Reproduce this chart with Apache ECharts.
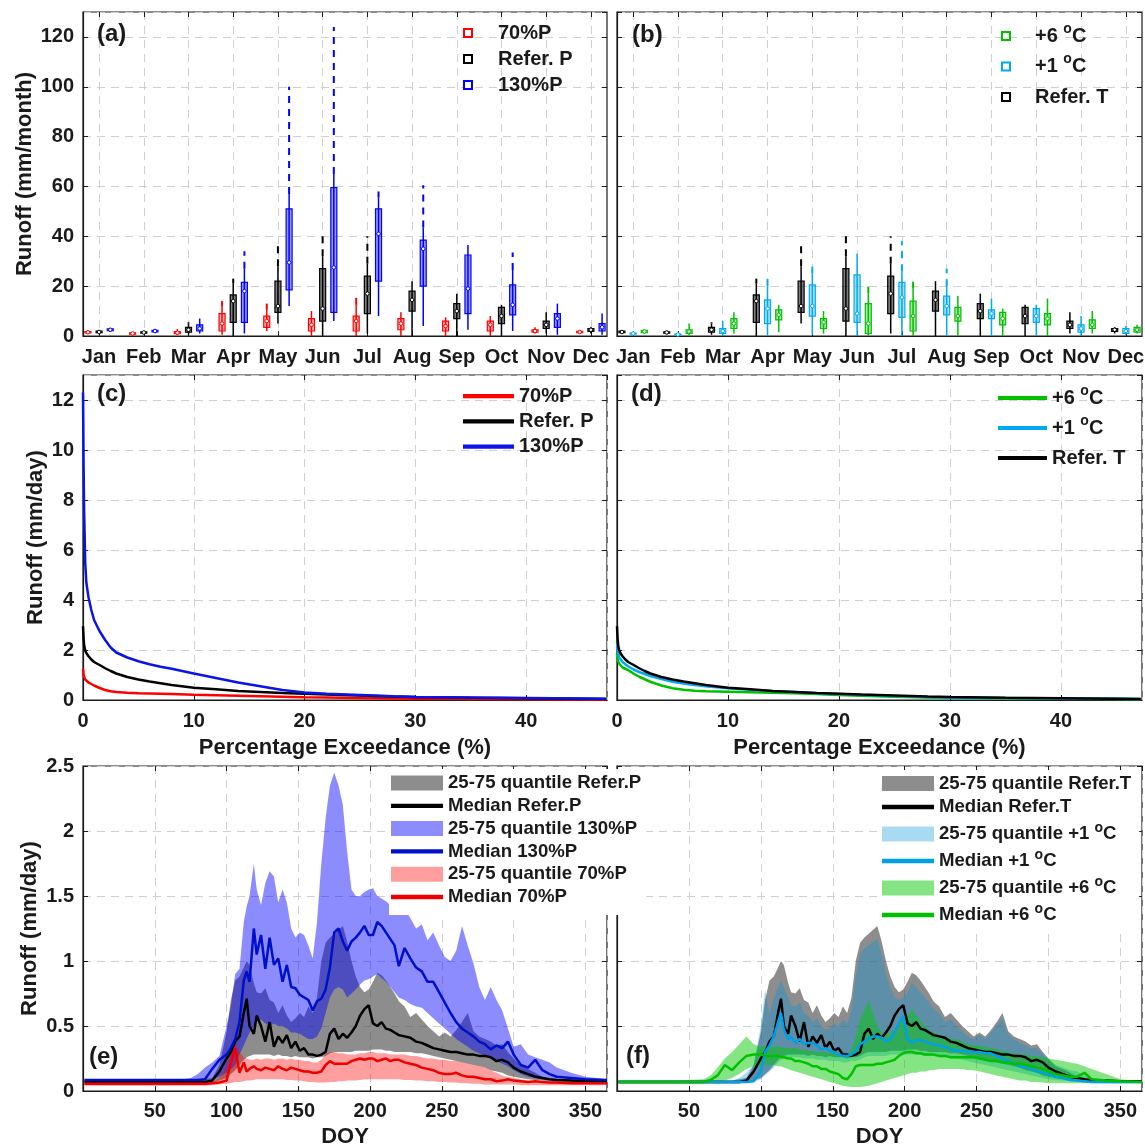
<!DOCTYPE html>
<html>
<head>
<meta charset="utf-8">
<script src="https://cdn.jsdelivr.net/npm/echarts@6/dist/echarts.min.js"></script>
<style>
  html, body { margin: 0; padding: 0; background: #fff; }
  #chart { width: 1145px; height: 1148px; }
</style>
</head>
<body>
<div id="chart"></div>
<script>
// ---------------- data ----------------
const months = ['Jan', 'Feb', 'Mar', 'Apr', 'May', 'Jun', 'Jul', 'Aug', 'Sep', 'Oct', 'Nov', 'Dec'];

// monthly runoff boxes, one row per month:
// [lower whisker, Q1, median, Q3, upper whisker, highest outlier]  (mm/month)
const box70P = [
  [1, 1.2, 1.5, 1.8, 2.2, 2.2], [0.5, 0.7, 1, 1.3, 1.6, 1.6], [0.5, 0.9, 1.3, 1.8, 2.8, 2.8],
  [0.5, 2, 5, 9, 12, 14], [2, 3.5, 6, 8, 10.5, 13], [0, 2, 4.5, 7, 10, 10],
  [0, 2, 6, 8, 12.5, 16], [0, 2.5, 5, 7, 9.5, 9.5], [0, 2, 4, 6, 7.5, 7.5],
  [0, 2, 4.5, 6, 8, 8], [1, 1.5, 2, 2.5, 3.5, 3.5], [1, 1.3, 1.6, 1.9, 2.2, 2.2]
];
const boxRef = [
  [1, 1.3, 1.6, 2, 2.3, 2.3], [0.8, 1.1, 1.4, 1.7, 2, 2], [0.5, 1.5, 2.5, 3.5, 5, 5.5],
  [0, 5.5, 14, 16.5, 21, 23], [5, 9.5, 12, 22, 28, 38], [0, 6, 11, 27, 32, 40.5],
  [1, 9, 17, 24, 29, 40], [0, 10, 14.5, 18, 22, 22], [0, 7, 10, 13, 17, 17],
  [0, 5, 8, 11.5, 12.5, 12.5], [1, 3, 4.5, 6, 9.5, 9.5], [1, 1.8, 2.5, 3, 3.5, 3.5]
];
const box130P = [
  [1.8, 2.1, 2.5, 2.9, 3.2, 3.2], [1.3, 1.6, 2, 2.3, 2.6, 2.6], [1, 2, 3, 4.5, 7, 7],
  [1, 5.5, 18, 21.5, 27, 34], [12, 18.5, 29.5, 51, 57, 100], [6, 9.5, 27.5, 59.5, 65, 124],
  [8, 22, 41, 51, 55.5, 58], [4, 20, 35, 38.5, 43.5, 60.5], [2.5, 9, 19, 32.5, 36.5, 36.5],
  [2, 8.5, 12.5, 20.5, 26.5, 33.5], [0.5, 3.5, 7, 9, 13, 13], [0.5, 2, 3.5, 5, 9, 9]
];
const boxT1 = [
  [0.6, 0.8, 1, 1.2, 1.4, 1.4], [0.3, 0.5, 0.6, 0.8, 1, 1], [0, 1, 2, 3, 6, 6],
  [0, 5, 11, 14.5, 20, 24], [0.5, 8, 12, 20.5, 25, 29], [0, 5.5, 9, 24.5, 33, 33],
  [0, 7.5, 15.5, 21.5, 26, 38], [0, 8.5, 12, 16, 20, 27], [0, 7, 9, 10.5, 15, 15],
  [0, 5.5, 8, 11, 12.5, 12.5], [0, 1.5, 3, 4.5, 8, 8], [0.5, 1, 2, 3, 4, 4]
];
const boxT6 = [
  [1, 1.3, 1.8, 2.3, 2.6, 2.6], [0, 1, 1.8, 2.5, 5, 5], [1, 3, 5, 7, 9.5, 9.5],
  [1.5, 6.5, 8.5, 10.5, 12.5, 12.5], [1, 3, 5.5, 7, 10, 10], [0, 1, 5, 13, 17, 22],
  [0, 2, 8, 14, 19, 24], [0, 6, 8, 11.5, 16, 16], [0, 4.5, 7, 9.5, 11, 11],
  [0, 4.5, 7, 9, 15, 15], [1, 3, 4.5, 6.5, 10, 10], [1, 1.5, 2.5, 3.5, 4.5, 4.5]
];

// flow duration curves (mm/day) against percentage exceedance
const exceed = [0, 0.05, 0.1, 0.2, 0.3, 0.5, 0.75, 1, 1.5, 2, 2.5, 3, 4, 5, 6, 7, 8, 10, 12, 14, 16, 18, 20, 22, 25, 28, 30, 35, 40, 45, 47.2];
const fdc70P = [1.25, 1.05, 0.92, 0.82, 0.76, 0.7, 0.64, 0.58, 0.48, 0.4, 0.35, 0.32, 0.29, 0.27, 0.26, 0.25, 0.24, 0.21, 0.19, 0.17, 0.15, 0.13, 0.11, 0.1, 0.08, 0.06, 0.05, 0.04, 0.03, 0.02, 0.01];
const fdcRef = [2.95, 2.5, 2.2, 1.98, 1.88, 1.75, 1.62, 1.52, 1.4, 1.27, 1.16, 1.06, 0.92, 0.82, 0.74, 0.67, 0.6, 0.49, 0.43, 0.36, 0.32, 0.28, 0.25, 0.22, 0.18, 0.14, 0.12, 0.09, 0.07, 0.05, 0.04];
const fdc130P = [12.3, 9.5, 7.6, 5.5, 4.7, 4.1, 3.6, 3.2, 2.75, 2.4, 2.1, 1.9, 1.7, 1.55, 1.43, 1.33, 1.25, 1.06, 0.88, 0.7, 0.55, 0.4, 0.3, 0.25, 0.2, 0.15, 0.12, 0.1, 0.08, 0.06, 0.05];
const fdcT1 = [2.3, 2.05, 1.9, 1.7, 1.62, 1.52, 1.43, 1.35, 1.22, 1.12, 1.04, 0.96, 0.84, 0.73, 0.66, 0.6, 0.55, 0.47, 0.41, 0.36, 0.32, 0.27, 0.24, 0.21, 0.16, 0.12, 0.1, 0.08, 0.06, 0.05, 0.04];
const fdcT6 = [1.87, 1.65, 1.55, 1.45, 1.38, 1.3, 1.25, 1.2, 1.05, 0.93, 0.83, 0.73, 0.58, 0.47, 0.41, 0.37, 0.35, 0.33, 0.31, 0.29, 0.27, 0.24, 0.2, 0.17, 0.13, 0.1, 0.09, 0.07, 0.05, 0.04, 0.03];

// daily runoff (mm/day) by day of year: median and 25-75 quantiles
const doy = [1, 20, 40, 60, 65, 70, 75, 80, 85, 90,
  95, 100, 103, 106, 109, 112, 114, 116, 119, 121,
  124, 127, 130, 133, 136, 139, 142, 145, 148, 151,
  154, 157, 160, 163, 166, 169, 172, 175, 178, 181,
  184, 187, 190, 193, 196, 199, 202, 205, 208, 211,
  214, 217, 220, 224, 228, 232, 236, 240, 244, 248,
  252, 256, 260, 264, 268, 272, 276, 280, 284, 288,
  292, 296, 300, 305, 310, 315, 320, 325, 330, 340,
  350, 365];
const refMed = [0.07, 0.07, 0.07, 0.07, 0.07, 0.07, 0.07, 0.07, 0.07, 0.08,
  0.15, 0.25, 0.3, 0.38, 0.42, 0.6, 0.71, 0.5, 0.44, 0.58,
  0.5, 0.38, 0.53, 0.34, 0.42, 0.37, 0.43, 0.33, 0.38, 0.31,
  0.33, 0.28, 0.28, 0.27, 0.28, 0.3, 0.44, 0.48, 0.4, 0.44,
  0.41, 0.45, 0.5, 0.58, 0.63, 0.66, 0.52, 0.5, 0.53, 0.48,
  0.47, 0.45, 0.43, 0.42, 0.41, 0.38, 0.37, 0.35, 0.33, 0.32,
  0.31, 0.3, 0.3, 0.29, 0.28, 0.28, 0.27, 0.27, 0.26, 0.23,
  0.24, 0.22, 0.18, 0.15, 0.13, 0.11, 0.1, 0.09, 0.085, 0.08,
  0.075, 0.075];
const refQ75 = [0.08, 0.08, 0.08, 0.08, 0.08, 0.08, 0.08, 0.08, 0.09, 0.1,
  0.2, 0.45, 0.7, 0.85, 0.88, 0.95, 1.0, 0.97, 0.83, 0.76,
  0.75, 0.79, 0.7, 0.68, 0.6, 0.66, 0.58, 0.53, 0.56, 0.6,
  0.57, 0.65, 0.6, 0.72, 1.0, 1.14, 1.18, 1.21, 1.24, 1.27,
  1.15, 1.0, 0.88, 0.8, 0.76, 0.78, 0.84, 0.91, 0.89, 0.85,
  0.8, 0.75, 0.69, 0.65, 0.57, 0.6, 0.55, 0.5, 0.46, 0.42,
  0.45, 0.42, 0.47, 0.53, 0.6, 0.46, 0.42, 0.4, 0.38, 0.35,
  0.36, 0.3, 0.25, 0.19, 0.17, 0.14, 0.11, 0.09, 0.085, 0.08,
  0.08, 0.08];
const refQ25 = [0.06, 0.06, 0.06, 0.06, 0.06, 0.06, 0.06, 0.06, 0.06, 0.065,
  0.08, 0.1, 0.13, 0.16, 0.2, 0.24, 0.26, 0.27, 0.28, 0.28,
  0.28, 0.28, 0.28, 0.27, 0.28, 0.27, 0.27, 0.26, 0.27, 0.26,
  0.26, 0.26, 0.25, 0.26, 0.26, 0.27, 0.29, 0.3, 0.3, 0.3,
  0.3, 0.3, 0.31, 0.31, 0.31, 0.31, 0.32, 0.32, 0.32, 0.31,
  0.31, 0.3, 0.3, 0.3, 0.3, 0.29, 0.29, 0.28, 0.27, 0.26,
  0.25, 0.24, 0.23, 0.22, 0.21, 0.2, 0.19, 0.18, 0.16, 0.15,
  0.14, 0.12, 0.11, 0.1, 0.09, 0.085, 0.08, 0.075, 0.07, 0.065,
  0.065, 0.065];
const p130Med = [0.085, 0.085, 0.085, 0.085, 0.085, 0.085, 0.085, 0.085, 0.09, 0.17,
  0.24, 0.28, 0.33, 0.4, 0.53, 0.85, 0.92, 0.84, 1.25, 1.05,
  1.2, 0.94, 1.18, 0.97, 1.02, 0.84, 0.97, 0.8, 0.79, 0.74,
  0.72, 0.7, 0.62, 0.69, 0.71, 0.78, 0.95, 1.22, 1.25, 1.15,
  1.08, 1.15, 1.18, 1.22, 1.27, 1.2, 1.2, 1.3, 1.27, 1.22,
  1.17, 1.12, 0.96, 1.1, 1.02, 0.95, 0.92, 0.84, 0.84, 0.76,
  0.68, 0.6, 0.53, 0.48, 0.45, 0.42, 0.38, 0.36, 0.32, 0.35,
  0.33, 0.38, 0.28, 0.2, 0.18, 0.24, 0.16, 0.13, 0.11, 0.1,
  0.09, 0.085];
const p130Q75 = [0.09, 0.09, 0.09, 0.09, 0.09, 0.09, 0.1, 0.13, 0.18, 0.22,
  0.27, 0.5, 0.65, 0.9, 0.94, 1.3, 1.42, 1.5, 1.75, 1.55,
  1.43, 1.6, 1.69, 1.65, 1.45, 1.55, 1.45, 1.25, 1.18, 1.22,
  1.2, 1.12, 1.02, 1.3, 1.75, 2.1, 2.35, 2.45, 2.35, 2.2,
  1.84, 1.55, 1.5, 1.5, 1.53, 1.55, 1.56, 1.5, 1.48, 1.46,
  1.43, 1.4, 1.38, 1.4, 1.33, 1.25, 1.28, 1.16, 1.22, 1.12,
  1.03, 1.0, 1.08, 1.27, 1.12, 0.98, 0.8, 0.7, 0.8, 0.7,
  0.62, 0.48, 0.34, 0.36, 0.28, 0.26, 0.24, 0.22, 0.18, 0.14,
  0.11, 0.09];
const p130Q25 = [0.075, 0.075, 0.075, 0.075, 0.075, 0.075, 0.075, 0.075, 0.08, 0.09,
  0.11, 0.14, 0.17, 0.2, 0.28, 0.35, 0.4, 0.45, 0.5, 0.55,
  0.55, 0.52, 0.5, 0.52, 0.5, 0.5, 0.48, 0.45, 0.45, 0.44,
  0.42, 0.4, 0.4, 0.42, 0.48, 0.6, 0.72, 0.78, 0.8, 0.78,
  0.72, 0.75, 0.78, 0.82, 0.85, 0.86, 0.88, 0.9, 0.87, 0.84,
  0.8, 0.76, 0.72, 0.7, 0.67, 0.65, 0.64, 0.6, 0.56, 0.52,
  0.48, 0.44, 0.4, 0.37, 0.34, 0.31, 0.29, 0.27, 0.25, 0.23,
  0.21, 0.19, 0.16, 0.13, 0.11, 0.1, 0.09, 0.085, 0.08, 0.08,
  0.08, 0.08];
const p70Med = [0.055, 0.055, 0.055, 0.055, 0.055, 0.055, 0.055, 0.055, 0.055, 0.06,
  0.065, 0.08, 0.22, 0.33, 0.14, 0.22, 0.15, 0.17, 0.19, 0.17,
  0.16, 0.18, 0.17, 0.16, 0.19, 0.17, 0.16, 0.18, 0.17, 0.16,
  0.15, 0.15, 0.14, 0.14, 0.15, 0.2, 0.23, 0.21, 0.21, 0.21,
  0.21, 0.23, 0.24, 0.25, 0.24, 0.25, 0.25, 0.23, 0.24, 0.25,
  0.23, 0.24, 0.24, 0.22, 0.21, 0.2, 0.18, 0.17, 0.16, 0.14,
  0.13, 0.13, 0.14, 0.12, 0.11, 0.11, 0.1, 0.09, 0.09, 0.075,
  0.08, 0.09, 0.08, 0.075, 0.07, 0.075, 0.07, 0.065, 0.065, 0.06,
  0.06, 0.06];
const p70Q75 = [0.06, 0.06, 0.06, 0.06, 0.06, 0.06, 0.06, 0.06, 0.06, 0.07,
  0.1, 0.2, 0.3, 0.4, 0.3, 0.26, 0.25, 0.24, 0.24, 0.25,
  0.24, 0.25, 0.25, 0.24, 0.25, 0.25, 0.24, 0.25, 0.24, 0.24,
  0.23, 0.23, 0.22, 0.22, 0.24, 0.28, 0.3, 0.3, 0.29, 0.29,
  0.28, 0.28, 0.28, 0.29, 0.29, 0.3, 0.3, 0.29, 0.29, 0.29,
  0.28, 0.28, 0.28, 0.28, 0.27, 0.27, 0.26, 0.25, 0.25, 0.24,
  0.24, 0.23, 0.23, 0.22, 0.21, 0.2, 0.19, 0.18, 0.16, 0.14,
  0.12, 0.11, 0.1, 0.09, 0.08, 0.075, 0.07, 0.065, 0.065, 0.06,
  0.06, 0.06];
const p70Q25 = [0.04, 0.04, 0.04, 0.04, 0.04, 0.04, 0.04, 0.04, 0.04, 0.045,
  0.05, 0.055, 0.06, 0.07, 0.07, 0.075, 0.08, 0.08, 0.085, 0.09,
  0.09, 0.09, 0.09, 0.09, 0.09, 0.09, 0.085, 0.085, 0.08, 0.08,
  0.075, 0.07, 0.07, 0.065, 0.065, 0.065, 0.07, 0.07, 0.075, 0.075,
  0.08, 0.08, 0.08, 0.085, 0.09, 0.09, 0.09, 0.09, 0.09, 0.09,
  0.09, 0.09, 0.09, 0.085, 0.085, 0.08, 0.08, 0.075, 0.075, 0.07,
  0.07, 0.065, 0.065, 0.06, 0.06, 0.055, 0.055, 0.05, 0.05, 0.05,
  0.05, 0.05, 0.05, 0.045, 0.045, 0.045, 0.045, 0.045, 0.045, 0.045,
  0.045, 0.045];
const t1Med = [0.07, 0.07, 0.07, 0.07, 0.07, 0.07, 0.07, 0.07, 0.07, 0.07,
  0.075, 0.15, 0.3, 0.35, 0.42, 0.53, 0.6, 0.47, 0.4, 0.42,
  0.37, 0.4, 0.36, 0.37, 0.37, 0.35, 0.32, 0.33, 0.31, 0.3,
  0.28, 0.27, 0.27, 0.28, 0.31, 0.36, 0.38, 0.4, 0.42, 0.42,
  0.41, 0.38, 0.4, 0.45, 0.52, 0.58, 0.4, 0.37, 0.39, 0.39,
  0.38, 0.37, 0.36, 0.35, 0.34, 0.32, 0.31, 0.31, 0.3, 0.3,
  0.3, 0.29, 0.29, 0.27, 0.25, 0.23, 0.21, 0.19, 0.18, 0.17,
  0.15, 0.14, 0.13, 0.11, 0.1, 0.085, 0.08, 0.075, 0.07, 0.07,
  0.07, 0.07];
const t1Q75 = [0.08, 0.08, 0.08, 0.08, 0.08, 0.08, 0.08, 0.08, 0.1, 0.14,
  0.2, 0.5, 0.78, 0.6, 0.72, 0.8, 0.85, 0.8, 0.72, 0.66,
  0.65, 0.68, 0.6, 0.58, 0.53, 0.56, 0.5, 0.47, 0.48, 0.52,
  0.5, 0.55, 0.52, 0.62, 0.88, 1.05, 1.1, 1.12, 1.15, 1.17,
  1.05, 0.9, 0.8, 0.72, 0.7, 0.72, 0.76, 0.83, 0.8, 0.76,
  0.72, 0.68, 0.63, 0.6, 0.53, 0.55, 0.5, 0.46, 0.42, 0.4,
  0.43, 0.4, 0.45, 0.5, 0.56, 0.43, 0.4, 0.37, 0.35, 0.33,
  0.33, 0.28, 0.24, 0.2, 0.18, 0.16, 0.15, 0.12, 0.1, 0.085,
  0.08, 0.08];
const t1Q25 = [0.06, 0.06, 0.06, 0.06, 0.06, 0.06, 0.06, 0.06, 0.06, 0.065,
  0.07, 0.09, 0.12, 0.15, 0.18, 0.22, 0.24, 0.25, 0.26, 0.26,
  0.26, 0.26, 0.25, 0.25, 0.25, 0.24, 0.24, 0.24, 0.23, 0.23,
  0.23, 0.22, 0.22, 0.23, 0.23, 0.24, 0.26, 0.27, 0.27, 0.27,
  0.27, 0.27, 0.28, 0.28, 0.28, 0.28, 0.28, 0.28, 0.28, 0.28,
  0.27, 0.27, 0.27, 0.26, 0.26, 0.25, 0.25, 0.24, 0.23, 0.22,
  0.21, 0.2, 0.19, 0.18, 0.17, 0.16, 0.15, 0.14, 0.13, 0.12,
  0.11, 0.1, 0.09, 0.085, 0.08, 0.075, 0.07, 0.065, 0.065, 0.06,
  0.06, 0.06];
const t6Med = [0.07, 0.07, 0.07, 0.07, 0.085, 0.12, 0.2, 0.16, 0.22, 0.27,
  0.28, 0.28, 0.27, 0.27, 0.27, 0.27, 0.26, 0.26, 0.25, 0.25,
  0.23, 0.23, 0.22, 0.21, 0.19, 0.19, 0.17, 0.17, 0.15, 0.14,
  0.13, 0.1, 0.09, 0.13, 0.19, 0.2, 0.2, 0.2, 0.2, 0.21,
  0.21, 0.22, 0.23, 0.24, 0.27, 0.29, 0.3, 0.3, 0.29, 0.29,
  0.28, 0.28, 0.28, 0.27, 0.27, 0.26, 0.26, 0.26, 0.26, 0.26,
  0.25, 0.24, 0.23, 0.23, 0.22, 0.22, 0.21, 0.21, 0.2, 0.19,
  0.18, 0.17, 0.15, 0.13, 0.12, 0.11, 0.11, 0.14, 0.09, 0.08,
  0.075, 0.07];
const t6Q75 = [0.08, 0.08, 0.08, 0.09, 0.12, 0.18, 0.25, 0.3, 0.36, 0.42,
  0.36, 0.34, 0.34, 0.34, 0.34, 0.34, 0.34, 0.33, 0.33, 0.33,
  0.33, 0.32, 0.32, 0.31, 0.31, 0.3, 0.3, 0.3, 0.29, 0.29,
  0.28, 0.28, 0.28, 0.32, 0.42, 0.55, 0.62, 0.7, 0.6, 0.5,
  0.45, 0.43, 0.45, 0.48, 0.52, 0.55, 0.58, 0.63, 0.58, 0.54,
  0.5, 0.47, 0.45, 0.43, 0.41, 0.4, 0.4, 0.38, 0.36, 0.35,
  0.35, 0.34, 0.33, 0.32, 0.31, 0.3, 0.29, 0.28, 0.28, 0.27,
  0.27, 0.26, 0.25, 0.24, 0.23, 0.22, 0.21, 0.19, 0.17, 0.13,
  0.09, 0.075];
const t6Q25 = [0.06, 0.06, 0.06, 0.06, 0.065, 0.07, 0.08, 0.1, 0.13, 0.17,
  0.19, 0.2, 0.2, 0.2, 0.2, 0.19, 0.19, 0.18, 0.17, 0.16,
  0.15, 0.14, 0.13, 0.12, 0.11, 0.1, 0.09, 0.08, 0.07, 0.06,
  0.05, 0.04, 0.035, 0.03, 0.03, 0.03, 0.035, 0.04, 0.05, 0.06,
  0.07, 0.08, 0.09, 0.1, 0.11, 0.12, 0.13, 0.14, 0.14, 0.15,
  0.15, 0.16, 0.16, 0.17, 0.17, 0.17, 0.17, 0.17, 0.16, 0.16,
  0.15, 0.14, 0.13, 0.12, 0.11, 0.1, 0.09, 0.08, 0.08, 0.07,
  0.07, 0.065, 0.06, 0.06, 0.06, 0.06, 0.06, 0.06, 0.06, 0.06,
  0.06, 0.06];

// ---------------- styling helpers ----------------
const FONT = '"Liberation Sans", Arial, sans-serif';
const INK = '#1a1a1a';
const RED = '#ff0000', BLK = '#000000', BLUE = '#0000ff', CYAN = '#00aaf0', GREEN = '#00c000';
const monthTicks = months.map((m, i) => i + 1);

const LABELS = {
  a70: '70%P', aRef: 'Refer. P', a130: '130%P',
  bT6: '+6 {s|o}C', bT1: '+1 {s|o}C', bRef: 'Refer. T',
  c70: '70%P', cRef: 'Refer. P', c130: '130%P',
  dT6: '+6 {s|o}C', dT1: '+1 {s|o}C', dRef: 'Refer. T',
  eRefBand: '25-75 quantile Refer.P', eRefMed: 'Median Refer.P',
  e130Band: '25-75 quantile 130%P', e130Med: 'Median 130%P',
  e70Band: '25-75 quantile 70%P', e70Med: 'Median 70%P',
  fRefBand: '25-75 quantile Refer.T', fRefMed: 'Median Refer.T',
  fT1Band: '25-75 quantile +1 {s|o}C', fT1Med: 'Median +1 {s|o}C',
  fT6Band: '25-75 quantile +6 {s|o}C', fT6Med: 'Median +6 {s|o}C'
};

const grids = [
  [83, 12, 524, 324], [617, 12, 525, 324],
  [83, 375, 524, 325], [617, 375, 525, 325],
  [83, 766, 524, 325], [617, 766, 525, 325]
].map(g => ({
  left: g[0], top: g[1], width: g[2], height: g[3],
  show: true, borderColor: INK, borderWidth: 1.2, backgroundColor: 'transparent',
  containLabel: false, outerBoundsMode: 'none'
}));

const gridLine = { show: true, lineStyle: { color: '#cfcfcf', width: 1, type: [8, 6] } };
const tickLabel = { color: INK, fontFamily: FONT, fontWeight: 'bold', fontSize: 20 };
const nameStyle = { color: INK, fontFamily: FONT, fontWeight: 'bold', fontSize: 22 };

// x-axis extents per panel
const xExt = [
  { min: 0.64, max: 12.36, months: true }, { min: 0.64, max: 12.36, months: true },
  { min: 0, max: 47.3, interval: 10 }, { min: 0, max: 47.3, interval: 10 },
  { min: 0, max: 365, interval: 50 }, { min: 0, max: 365, interval: 50 }
];
const yExt = [
  { min: 0, max: 130, interval: 20 }, { min: 0, max: 130, interval: 20 },
  { min: 0, max: 13, interval: 2 }, { min: 0, max: 13, interval: 2 },
  { min: 0, max: 2.5, interval: 0.5 }, { min: 0, max: 2.5, interval: 0.5 }
];

function xAxis(i, secondary) {
  const e = xExt[i];
  const ax = {
    gridIndex: i, type: 'value', min: e.min, max: e.max,
    position: secondary ? 'top' : 'bottom',
    axisLine: { show: !secondary, onZero: false, lineStyle: { color: INK, width: 1.2 } },
    axisTick: { show: true, inside: true, length: 5, lineStyle: { color: INK } },
    axisLabel: Object.assign({ show: !secondary, margin: 11, showMaxLabel: false, showMinLabel: i === 2 || i === 3 }, tickLabel),
    splitLine: secondary ? { show: false } : gridLine
  };
  if (e.months) {
    ax.axisTick.customValues = monthTicks;
    ax.axisLabel.customValues = monthTicks;
    ax.axisLabel.showMinLabel = true;
    ax.axisLabel.showMaxLabel = true;
    ax.axisLabel.formatter = v => months[Math.round(v) - 1] || '';
  } else {
    ax.interval = e.interval;
  }
  if (!secondary && (i === 2 || i === 3)) {
    Object.assign(ax, { name: 'Percentage Exceedance (%)', nameLocation: 'middle', nameGap: 37, nameTextStyle: nameStyle });
  }
  if (!secondary && (i === 4 || i === 5)) {
    Object.assign(ax, { name: 'DOY', nameLocation: 'middle', nameGap: 35, nameTextStyle: nameStyle });
    ax.axisLabel.margin = 10;
  }
  return ax;
}

function yAxis(i, secondary) {
  const e = yExt[i];
  const left = i % 2 === 0;
  const ax = {
    gridIndex: i, type: 'value', min: e.min, max: e.max, interval: e.interval,
    position: secondary ? 'right' : 'left',
    axisLine: { show: !secondary, onZero: false, lineStyle: { color: INK, width: 1.2 } },
    axisTick: { show: true, inside: true, length: 5, lineStyle: { color: INK } },
    axisLabel: Object.assign({ show: !secondary && left, margin: 9, showMaxLabel: i >= 4 }, tickLabel),
    splitLine: secondary ? { show: false } : gridLine
  };
  if (!secondary && left) {
    const names = ['Runoff (mm/month)', '', 'Runoff (mm/day)', '', 'Runoff (mm/day)'];
    const gaps = [47, 0, 36, 0, 42];
    Object.assign(ax, { name: names[i], nameLocation: 'middle', nameRotate: 90, nameGap: gaps[i], nameTextStyle: nameStyle });
  }
  return ax;
}

// ---------------- series builders ----------------
function boxSeries(key, rows, gi, shift, color, fill) {
  return {
    name: key, type: 'custom', xAxisIndex: gi, yAxisIndex: gi,
    data: rows.map((r, i) => [i + 1 + shift].concat(r)),
    encode: { x: 0, y: [1, 2, 3, 4, 5, 6] },
    renderItem: function (params, api) {
      const x = api.value(0);
      const pt = k => api.coord([x, api.value(k)]);
      const lo = pt(1), q1 = pt(2), md = pt(3), q3 = pt(4), hi = pt(5), top = pt(6);
      const hw = 3;
      const kids = [];
      if (top[1] < hi[1] - 1) {
        kids.push({ type: 'line', shape: { x1: hi[0], y1: hi[1], x2: top[0], y2: top[1] },
          style: { stroke: color, lineWidth: 2, lineDash: [7, 6] } });
      }
      kids.push({ type: 'line', shape: { x1: lo[0], y1: lo[1], x2: hi[0], y2: hi[1] },
        style: { stroke: color, lineWidth: 1.5 } });
      kids.push({ type: 'rect', shape: { x: q3[0] - hw, y: q3[1], width: hw * 2, height: Math.max(1, q1[1] - q3[1]) },
        style: { fill: fill, stroke: color, lineWidth: 1.2 } });
      kids.push({ type: 'circle', shape: { cx: md[0], cy: md[1], r: 1.8 },
        style: { fill: '#ffffff', stroke: color, lineWidth: 1 } });
      return { type: 'group', children: kids };
    }
  };
}

function lineSeries(key, xs, ys, gi, color, width) {
  return {
    name: key, type: 'line', xAxisIndex: gi, yAxisIndex: gi,
    data: xs.map((x, i) => [x, ys[i]]),
    symbol: 'none', showSymbol: false, smooth: false,
    lineStyle: { color: color, width: width }, itemStyle: { color: color }
  };
}

function bandSeries(key, lo, hi, gi, fill) {
  const rows = doy.map((d, i) => [d, lo[i], hi[i]]);
  return {
    name: key, type: 'custom', xAxisIndex: gi, yAxisIndex: gi,
    data: rows, encode: { x: 0, y: [1, 2] },
    renderItem: function (params, api) {
      if (params.dataIndex !== 0) return null;
      const upper = rows.map(r => api.coord([r[0], r[2]]));
      const lower = rows.map(r => api.coord([r[0], r[1]])).reverse();
      return { type: 'polygon', shape: { points: upper.concat(lower) }, style: { fill: fill } };
    }
  };
}

const FILL = {
  ref: 'rgba(80,80,80,0.65)', p130: 'rgba(0,0,255,0.45)', p70: 'rgba(255,0,0,0.38)',
  t1: 'rgba(0,150,220,0.34)', t6: 'rgba(0,200,0,0.48)'
};

const series = [
  // (a)
  boxSeries('a70', box70P, 0, -0.25, RED, 'rgba(255,0,0,0.3)'),
  boxSeries('aRef', boxRef, 0, 0, BLK, 'rgba(0,0,0,0.5)'),
  boxSeries('a130', box130P, 0, 0.25, BLUE, 'rgba(0,0,255,0.4)'),
  // (b)
  boxSeries('bRef', boxRef, 1, -0.25, BLK, 'rgba(0,0,0,0.5)'),
  boxSeries('bT1', boxT1, 1, 0, CYAN, 'rgba(0,170,240,0.35)'),
  boxSeries('bT6', boxT6, 1, 0.25, GREEN, 'rgba(0,192,0,0.35)'),
  // (c)
  lineSeries('c70', exceed, fdc70P, 2, RED, 2.5),
  lineSeries('cRef', exceed, fdcRef, 2, BLK, 2.5),
  lineSeries('c130', exceed, fdc130P, 2, '#0a14e6', 2.5),
  // (d)
  lineSeries('dT6', exceed, fdcT6, 3, GREEN, 2.5),
  lineSeries('dT1', exceed, fdcT1, 3, CYAN, 2.5),
  lineSeries('dRef', exceed, fdcRef, 3, BLK, 2.5),
  // (e)
  bandSeries('eRefBand', refQ25, refQ75, 4, FILL.ref),
  lineSeries('eRefMed', doy, refMed, 4, BLK, 2.5),
  bandSeries('e130Band', p130Q25, p130Q75, 4, FILL.p130),
  lineSeries('e130Med', doy, p130Med, 4, '#0010c8', 2.5),
  bandSeries('e70Band', p70Q25, p70Q75, 4, FILL.p70),
  lineSeries('e70Med', doy, p70Med, 4, '#ee0000', 2.5),
  // (f)
  bandSeries('fRefBand', refQ25, refQ75, 5, FILL.ref),
  lineSeries('fRefMed', doy, refMed, 5, BLK, 2.5),
  bandSeries('fT1Band', t1Q25, t1Q75, 5, FILL.t1),
  lineSeries('fT1Med', doy, t1Med, 5, '#00a0e8', 2.5),
  bandSeries('fT6Band', t6Q25, t6Q75, 5, FILL.t6),
  lineSeries('fT6Med', doy, t6Med, 5, GREEN, 2.5)
];

// ---------------- legends ----------------
const SQ = 'path://M0,0H10V10H0Z';
const LN = 'path://M0,0H60V5H0Z';
const supRich = padBottom => ({
  s: { fontFamily: FONT, fontWeight: 'bold', fontSize: 14, color: INK, verticalAlign: 'top', padding: [0, 0, padBottom, 0] }
});

function legendText(size, lh, padBottom) {
  const t = { color: INK, fontFamily: FONT, fontWeight: 'bold', fontSize: size, rich: supRich(padBottom || 9) };
  if (lh) t.lineHeight = lh;
  return t;
}
const sqItem = (name, c) => ({ name, icon: SQ, itemStyle: { color: '#ffffff', borderColor: c, borderWidth: 2 } });
const lnItem = (name, c) => ({ name, icon: LN, itemStyle: { color: c, borderWidth: 0 } });
const bandItem = (name, c) => ({ name, icon: 'rect', itemStyle: { color: c, borderWidth: 0 } });

const legendBase = {
  orient: 'vertical', selectedMode: false, padding: 0, symbolKeepAspect: true,
  formatter: n => LABELS[n], z: 10
};

const legends = [
  Object.assign({}, legendBase, {
    left: 463, top: 22, itemWidth: 50, itemHeight: 8, itemGap: 4, textStyle: legendText(20, 22),
    data: [sqItem('a70', RED), sqItem('aRef', BLK), sqItem('a130', BLUE)]
  }),
  Object.assign({}, legendBase, {
    left: 1001, top: 22, itemWidth: 48, itemHeight: 8, itemGap: 2.5, textStyle: legendText(20, 28),
    data: [sqItem('bT6', GREEN), sqItem('bT1', CYAN), sqItem('bRef', BLK)]
  }),
  Object.assign({}, legendBase, {
    left: 463, top: 385, itemWidth: 51, itemHeight: 12, itemGap: 3.3, textStyle: legendText(20, 22),
    data: [lnItem('c70', RED), lnItem('cRef', BLK), lnItem('c130', '#0a14e6')]
  }),
  Object.assign({}, legendBase, {
    left: 998, top: 384, itemWidth: 49, itemHeight: 12, itemGap: 2, textStyle: legendText(20, 28),
    data: [lnItem('dT6', GREEN), lnItem('dT1', CYAN), lnItem('dRef', BLK)]
  }),
  Object.assign({}, legendBase, {
    left: 389, top: 769, itemWidth: 52, itemHeight: 15, itemGap: 2.8,
    padding: [4, 5, 8, 2], backgroundColor: '#ffffff', textStyle: legendText(18.6, 20),
    data: [bandItem('eRefBand', FILL.ref), lnItem('eRefMed', BLK), bandItem('e130Band', FILL.p130),
      lnItem('e130Med', '#0010c8'), bandItem('e70Band', FILL.p70), lnItem('e70Med', '#ee0000')]
  }),
  Object.assign({}, legendBase, {
    left: 879, top: 770, itemWidth: 52, itemHeight: 15, itemGap: 4.5,
    padding: [4, 8, 6, 3], backgroundColor: '#ffffff', textStyle: legendText(18.6, 0, 12),
    data: [bandItem('fRefBand', FILL.ref), lnItem('fRefMed', BLK), bandItem('fT1Band', FILL.t1),
      lnItem('fT1Med', '#00a0e8'), bandItem('fT6Band', FILL.t6), lnItem('fT6Med', GREEN)]
  })
];

// ---------------- panel letters ----------------
const letters = [['(a)', 97, 22], ['(b)', 632, 23], ['(c)', 97, 382], ['(d)', 631, 382], ['(e)', 89, 1045], ['(f)', 626, 1044]];
const graphic = letters.map(l => ({
  type: 'text', left: l[1], top: l[2], z: 20,
  style: { text: l[0], fill: INK, font: 'bold 24px ' + FONT }
}));

const chart = echarts.init(document.getElementById('chart'), null, { renderer: 'canvas' });
chart.setOption({
  animation: false,
  backgroundColor: '#ffffff',
  textStyle: { fontFamily: FONT },
  grid: grids,
  xAxis: [0, 1, 2, 3, 4, 5].map(i => xAxis(i, false)).concat([0, 1, 2, 3, 4, 5].map(i => xAxis(i, true))),
  yAxis: [0, 1, 2, 3, 4, 5].map(i => yAxis(i, false)).concat([0, 1, 2, 3, 4, 5].map(i => yAxis(i, true))),
  legend: legends,
  graphic: graphic,
  series: series
});
</script>
</body>
</html>
